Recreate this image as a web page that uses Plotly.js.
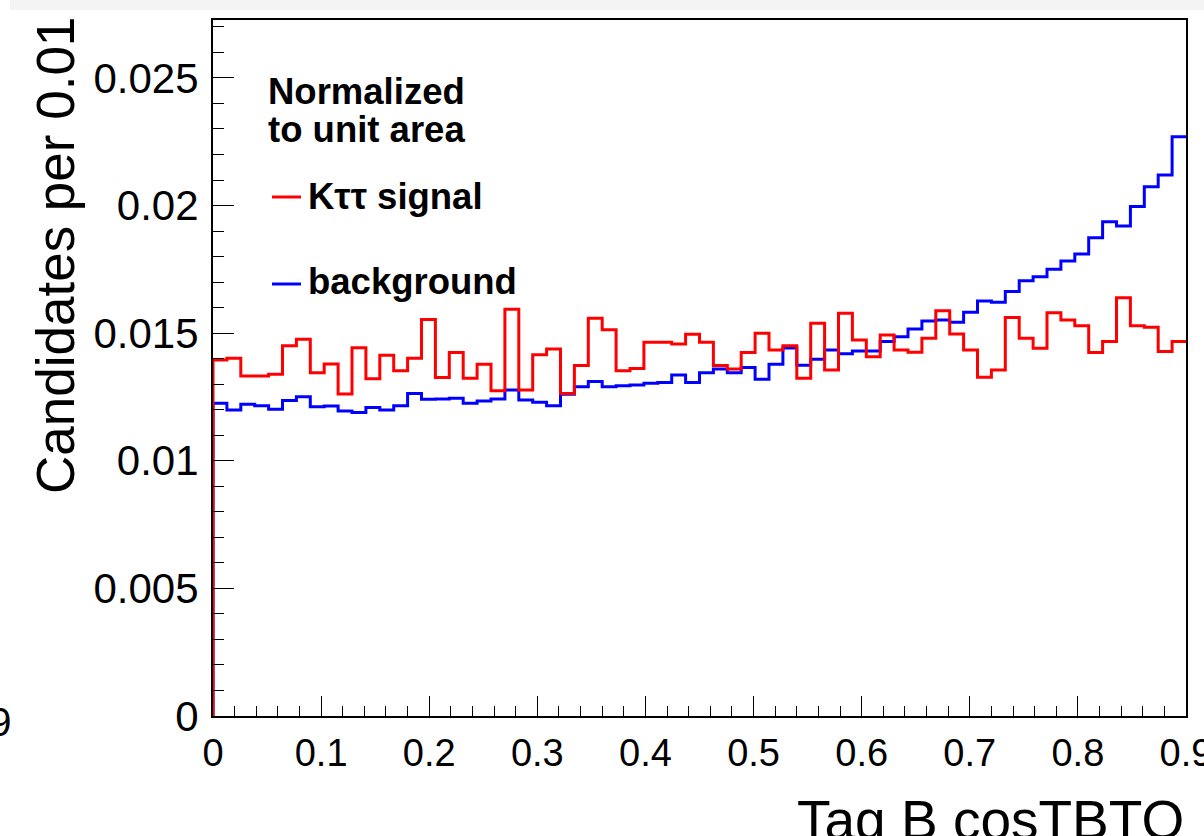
<!DOCTYPE html>
<html>
<head>
<meta charset="utf-8">
<script src="https://cdn.plot.ly/plotly-3.0.1.min.js"></script>
<style>
  html, body { margin: 0; padding: 0; background: #ffffff; }
  #chart { width: 1204px; height: 836px; }
</style>
</head>
<body>
<div id="chart"></div>
<script>
// Histogram range and number of bins (70 equal bins over [0, 0.9])
const xMin = 0.0;
const xMax = 0.9;
const nBins = 70;

// Kττ signal, normalized to unit area (bin contents, left to right)
const signalValues = [
  0.01395, 0.01402, 0.01332, 0.01332, 0.01339, 0.01451, 0.01476, 0.01345, 0.01379, 0.01262,
  0.01443, 0.01321, 0.01413, 0.01353, 0.01402, 0.01554, 0.01326, 0.01424, 0.01323, 0.01378,
  0.01274, 0.01594, 0.01277, 0.01415, 0.01438, 0.01264, 0.01373, 0.01558, 0.01513, 0.01353,
  0.01362, 0.01464, 0.01464, 0.01458, 0.01496, 0.01464, 0.01373, 0.01360, 0.01424, 0.01500,
  0.01434, 0.01451, 0.01323, 0.01539, 0.01356, 0.01578, 0.01473, 0.01408, 0.01493, 0.01434,
  0.01425, 0.01480, 0.01588, 0.01497, 0.01434, 0.01327, 0.01356, 0.01561, 0.01480, 0.01441,
  0.01580, 0.01552, 0.01529, 0.01424, 0.01467, 0.01639, 0.01529, 0.01523, 0.01428, 0.01467
];

// background, normalized to unit area
const backgroundValues = [
  0.01225, 0.01199, 0.01221, 0.01216, 0.01202, 0.01236, 0.01251, 0.01212, 0.01215, 0.01195,
  0.01189, 0.01209, 0.01199, 0.01216, 0.01264, 0.01241, 0.01242, 0.01245, 0.01225, 0.01234,
  0.01242, 0.01277, 0.01238, 0.01229, 0.01216, 0.01261, 0.01290, 0.01311, 0.01290, 0.01294,
  0.01297, 0.01304, 0.01307, 0.01336, 0.01307, 0.01345, 0.01360, 0.01345, 0.01365, 0.01319,
  0.01378, 0.01442, 0.01374, 0.01398, 0.01434, 0.01419, 0.01430, 0.01430, 0.01467, 0.01486,
  0.01516, 0.01548, 0.01552, 0.01543, 0.01582, 0.01626, 0.01621, 0.01663, 0.01705, 0.01721,
  0.01750, 0.01783, 0.01810, 0.01874, 0.01937, 0.01920, 0.01996, 0.02074, 0.02120, 0.02270
];

// Axis tick values
const xTickVals = [0, 0.1, 0.2, 0.3, 0.4, 0.5, 0.6, 0.7, 0.8, 0.9];
const xTickText = ["0", "0.1", "0.2", "0.3", "0.4", "0.5", "0.6", "0.7", "0.8", "0.9"];
const yTickVals = [0, 0.005, 0.01, 0.015, 0.02, 0.025];
const yTickText = ["0", "0.005", "0.01", "0.015", "0.02", "0.025"];

// Texts
const xTitle = "Tag B cosTBTO";
const yTitle = "Candidates per 0.01";
const legendHeader = ["Normalized", "to unit area"];
const signalName = "Kττ signal";
const backgroundName = "background";

// Build step outline: start at zero on the left edge, then one step per bin
function stepOutline(values) {
  const w = (xMax - xMin) / nBins;
  const xs = [xMin];
  const ys = [0];
  for (let i = 0; i < values.length; i++) {
    xs.push(xMin + i * w);
    ys.push(values[i]);
  }
  xs.push(xMax);
  ys.push(values[values.length - 1]);
  return { x: xs, y: ys };
}

const bg = stepOutline(backgroundValues);
const sig = stepOutline(signalValues);

const FONT = "Liberation Sans, Arial, Helvetica, sans-serif";

const traces = [
  {
    type: "scatter", mode: "lines", name: backgroundName,
    x: bg.x, y: bg.y,
    line: { shape: "hv", color: "#0000ff", width: 3 },
    hoverinfo: "skip", showlegend: false
  },
  {
    type: "scatter", mode: "lines", name: signalName,
    x: sig.x, y: sig.y,
    line: { shape: "hv", color: "#ff0000", width: 3 },
    hoverinfo: "skip", showlegend: false
  }
];

// pixel helpers for paper coordinates (plot area: x 213..1186, y 20..716)
const L = 213, R = 1186, T = 20, B = 716;
const px = (p) => (p - L) / (R - L);
const py = (p) => (B - p) / (B - T);

const layout = {
  width: 1204, height: 836,
  margin: { l: L, r: 1204 - R, t: T, b: 836 - B, pad: 0 },
  paper_bgcolor: "#ffffff",
  plot_bgcolor: "#ffffff",
  showlegend: false,
  font: { family: FONT, color: "#000000" },
  xaxis: {
    range: [xMin, xMax],
    tickmode: "array", tickvals: xTickVals, ticktext: xTickText,
    ticks: "inside", ticklen: 20, tickwidth: 1, tickcolor: "#000",
    minor: { dtick: 0.02, ticks: "inside", ticklen: 10, tickwidth: 1, tickcolor: "#000", showgrid: false },
    showgrid: false, zeroline: false,
    showline: true, linecolor: "#000", linewidth: 2, mirror: true,
    tickfont: { family: FONT, size: 38, color: "#000" },
    ticklabeloverflow: "allow",
    ticklabelstandoff: 2
  },
  yaxis: {
    range: [0, 0.02727],
    tickmode: "array", tickvals: yTickVals, ticktext: yTickText,
    ticks: "inside", ticklen: 21, tickwidth: 1, tickcolor: "#000",
    minor: { dtick: 0.001, ticks: "inside", ticklen: 11, tickwidth: 1, tickcolor: "#000", showgrid: false },
    showgrid: false, zeroline: false,
    showline: true, linecolor: "#000", linewidth: 2, mirror: true,
    tickfont: { family: FONT, size: 42, color: "#000" },
    ticklabeloverflow: "allow",
    ticklabelstandoff: 4
  },
  shapes: [
    // light band along the top edge of the picture
    { type: "rect", xref: "paper", yref: "paper",
      x0: px(10), x1: px(1204), y0: py(10), y1: py(0),
      fillcolor: "#f4f4f4", line: { width: 0 }, layer: "below" },
    // legend line samples
    { type: "line", xref: "paper", yref: "paper",
      x0: px(272), x1: px(301), y0: py(197), y1: py(197),
      line: { color: "#ff0000", width: 3 } },
    { type: "line", xref: "paper", yref: "paper",
      x0: px(272), x1: px(301), y0: py(284), y1: py(284),
      line: { color: "#0000ff", width: 3 } }
  ],
  annotations: [
    { xref: "paper", yref: "paper", x: px(266), y: py(92), xanchor: "left", yanchor: "middle",
      text: "<b>" + legendHeader[0] + "</b>", showarrow: false,
      font: { family: FONT, size: 36.5, color: "#000" } },
    { xref: "paper", yref: "paper", x: px(266), y: py(129), xanchor: "left", yanchor: "middle",
      text: "<b>" + legendHeader[1] + "</b>", showarrow: false,
      font: { family: FONT, size: 36.5, color: "#000" } },
    { xref: "paper", yref: "paper", x: px(306), y: py(196), xanchor: "left", yanchor: "middle",
      text: "<b>" + signalName + "</b>", showarrow: false,
      font: { family: FONT, size: 36.5, color: "#000" } },
    { xref: "paper", yref: "paper", x: px(306), y: py(282), xanchor: "left", yanchor: "middle",
      text: "<b>" + backgroundName + "</b>", showarrow: false,
      font: { family: FONT, size: 36.5, color: "#000" } },
    // axis titles
    { xref: "paper", yref: "paper", x: px(56), y: py(256), xanchor: "center", yanchor: "middle",
      text: yTitle, textangle: -90, showarrow: false,
      font: { family: FONT, size: 53, color: "#000" } },
    { xref: "paper", yref: "paper", x: 1, y: py(820), xanchor: "right", yanchor: "middle",
      text: xTitle, showarrow: false,
      font: { family: FONT, size: 55, color: "#000" } },
    // fragment of neighbouring panel label at the far left
    { xref: "paper", yref: "paper", x: px(14), y: py(722), xanchor: "right", yanchor: "middle",
      text: "0.9", showarrow: false,
      font: { family: FONT, size: 40, color: "#000" } }
  ]
};

Plotly.newPlot("chart", traces, layout, { displayModeBar: false, staticPlot: true });
</script>
</body>
</html>
